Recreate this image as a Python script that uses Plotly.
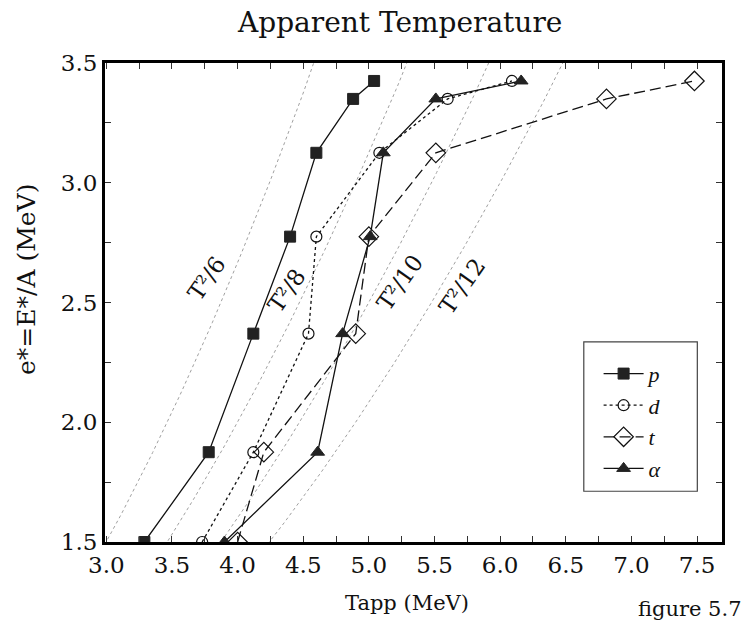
import numpy as np
import plotly.graph_objects as go

# Excitation energy per nucleon e* (MeV) shared by all series
e_star = [1.5, 1.875, 2.37, 2.775, 3.125, 3.35, 3.425]

# Apparent temperatures (MeV)
T_p = [3.29, 3.78, 4.12, 4.40, 4.60, 4.88, 5.04]
T_d = [3.73, 4.12, 4.54, 4.60, 5.08, 5.60, 6.09]
T_t = [4.00, 4.20, 4.90, 5.00, 5.51, 6.81, 7.48]
T_a = [3.90, 4.61, 4.80, 5.01, 5.11, 5.51, 6.16]

series_names = ["<i>p</i>", "<i>d</i>", "<i>t</i>", "<i>α</i>"]

# Reference curves e* = T^2 / a
divisors = [6, 8, 10, 12]
curve_labels = ["T²/6", "T²/8", "T²/10", "T²/12"]
label_x = [3.76, 4.37, 5.24, 5.71]
label_y = [2.60, 2.55, 2.585, 2.57]

x_ticks = [3.0, 3.5, 4.0, 4.5, 5.0, 5.5, 6.0, 6.5, 7.0, 7.5]
y_ticks = [1.5, 2.0, 2.5, 3.0, 3.5]

FONT = "DejaVu Serif"
LFONT = "Liberation Serif"
INK = "#111111"
MK = "#222222"

fig = go.Figure()

T_grid = np.linspace(2.9, 7.0, 200)
for a in divisors:
    fig.add_trace(go.Scatter(
        x=T_grid, y=T_grid ** 2 / a, mode="lines",
        line=dict(color="#a0a0a0", width=1, dash="dot"),
        showlegend=False, hoverinfo="skip"))

fig.add_trace(go.Scatter(
    x=T_p, y=e_star, name=series_names[0], mode="lines+markers",
    line=dict(color=INK, width=1.3),
    marker=dict(symbol="square", size=11, color=MK, line=dict(color=MK, width=1))))
fig.add_trace(go.Scatter(
    x=T_d, y=e_star, name=series_names[1], mode="lines+markers",
    line=dict(color=INK, width=1.3, dash="3px,3px"),
    marker=dict(symbol="circle-open", size=11, color=INK, line=dict(color=INK, width=1.2))))
fig.add_trace(go.Scatter(
    x=T_t, y=e_star, name=series_names[2], mode="lines+markers",
    line=dict(color=INK, width=1.3, dash="11px,5px"),
    marker=dict(symbol="diamond-open", size=15, color=INK, line=dict(color=INK, width=1.2))))
fig.add_trace(go.Scatter(
    x=T_a, y=e_star, name=series_names[3], mode="lines+markers",
    line=dict(color=INK, width=1.3),
    marker=dict(symbol="triangle-up", size=12, color=MK, line=dict(color=MK, width=1))))

for txt, lx, ly in zip(curve_labels, label_x, label_y):
    fig.add_annotation(x=lx, y=ly, text=txt, showarrow=False, textangle=-55,
                       font=dict(family=FONT, size=23, color=INK))

axis_common = dict(
    showline=True, linewidth=3, linecolor="black", mirror="ticks",
    ticks="inside", ticklen=6, tickwidth=1, tickcolor="#333",
    showgrid=False, zeroline=False,
    tickfont=dict(family=FONT, size=23, color=INK),
)

fig.update_xaxes(range=[2.99, 7.69], tickvals=x_ticks,
                 ticktext=[f"{v:.1f}" for v in x_ticks],
                 minor=dict(dtick=0.25, ticks="inside", ticklen=6, tickcolor="#333"),
                 **axis_common)
fig.update_yaxes(range=[1.5, 3.5], tickvals=y_ticks,
                 ticktext=[f"{v:.1f}" for v in y_ticks],
                 minor=dict(dtick=0.25, ticks="inside", ticklen=6, tickcolor="#333"),
                 **axis_common)

# Legend box
fig.add_shape(type="rect", xref="paper", yref="paper",
              x0=0.776, x1=0.960, y0=0.106, y1=0.418,
              line=dict(color="#444", width=1.2), fillcolor="white", layer="below")

fig.add_annotation(xref="paper", yref="paper", x=0.478, y=1.0, yshift=41,
                   text="Apparent Temperature", showarrow=False, yanchor="middle",
                   font=dict(family=FONT, size=28, color=INK))
fig.add_annotation(xref="paper", yref="paper", x=0.49, y=0, yshift=-61,
                   text="Tapp (MeV)", showarrow=False, yanchor="middle",
                   font=dict(family=FONT, size=21, color=INK))
fig.add_annotation(xref="paper", yref="paper", x=1.036, xanchor="right", y=0, yshift=-67,
                   text="figure 5.7", showarrow=False, yanchor="middle",
                   font=dict(family=FONT, size=21, color=INK))
fig.add_annotation(xref="paper", yref="paper", x=0, xshift=-78, y=0.547,
                   text="e*=E*/A (MeV)", showarrow=False, textangle=-90,
                   xanchor="center", yanchor="middle",
                   font=dict(family=FONT, size=25, color=INK))

fig.update_layout(
    width=746, height=620,
    margin=dict(l=105, r=24, t=63, b=78),
    paper_bgcolor="white", plot_bgcolor="white",
    showlegend=True,
    legend=dict(x=0.80, y=0.395, xanchor="left", yanchor="top",
                bgcolor="rgba(0,0,0,0)", borderwidth=0,
                font=dict(family=LFONT, size=22, color=INK),
                tracegroupgap=0, itemwidth=40),
)

fig.write_html("out.html", config={"displayModeBar": False},
               post_script="document.body.style.margin='0';")
